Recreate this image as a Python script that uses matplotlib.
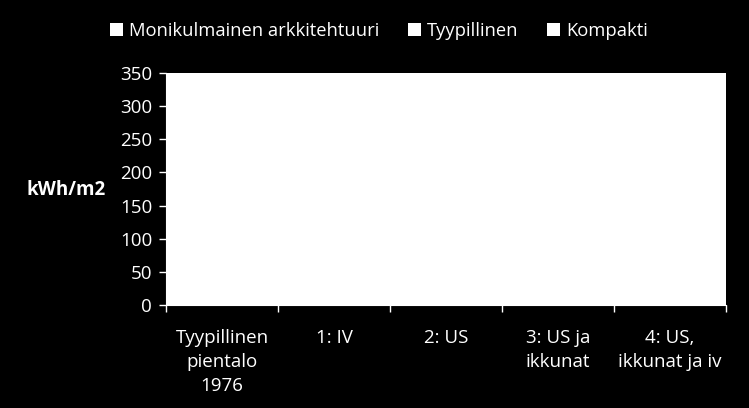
import matplotlib
matplotlib.use("Agg")
import matplotlib.pyplot as plt
import numpy as np
from matplotlib.patches import Patch

plt.rcParams['font.family'] = ['Open Sans', 'DejaVu Sans']

categories = ['Tyypillinen\npientalo\n1976', '1: IV', '2: US', '3: US ja\nikkunat', '4: US,\nikkunat ja iv']
series_names = ['Monikulmainen arkkitehtuuri', 'Tyypillinen', 'Kompakti']
# bars are drawn white on the white plot area, so the values cannot be read off the picture
monikulmainen = [0, 0, 0, 0, 0]
tyypillinen = [0, 0, 0, 0, 0]
kompakti = [0, 0, 0, 0, 0]
yticks = [0, 50, 100, 150, 200, 250, 300, 350]

fig = plt.figure(figsize=(7.49, 4.08), dpi=100, facecolor='black')
ax = fig.add_axes([166/749, 1 - 305/408, (726-166)/749, (305-73)/408])
ax.set_facecolor('white')

x = np.arange(len(categories))
w = 0.25
for i, vals in enumerate([monikulmainen, tyypillinen, kompakti]):
    ax.bar(x + (i - 1) * w, vals, w, color='white', label=series_names[i])

ax.set_xlim(-0.5, len(categories) - 0.5)
ax.set_ylim(0, 350)
ax.set_yticks(yticks)
ax.set_xticks(x)
ax.set_xticklabels(categories, linespacing=1.45)
ax.set_xticks(np.arange(-0.5, len(categories)), minor=True)
ax.tick_params(axis='x', which='major', length=0, pad=17, colors='white', labelsize=13.5)
ax.tick_params(axis='x', which='minor', length=5, width=1, colors='white', direction='out')
ax.tick_params(axis='y', length=5, width=1, colors='white', labelsize=13.5, pad=5)
for s in ['top', 'right']:
    ax.spines[s].set_visible(False)
for s in ['left', 'bottom']:
    ax.spines[s].set_color('white')

fig.text(66/749, 1 - 190/408, 'kWh/m2', color='white', fontsize=13.5, fontweight='bold',
         ha='center', va='center')

handles = [Patch(facecolor='white', edgecolor='none') for _ in series_names]
fig.legend(handles, series_names, loc='center', bbox_to_anchor=(379/749, 1 - 31/408), ncol=3,
           frameon=False, labelcolor='white', fontsize=13.2, handlelength=0.7, handleheight=0.7,
           handletextpad=0.3, columnspacing=1.6)

fig.savefig('out.png', dpi=100, facecolor='black')
